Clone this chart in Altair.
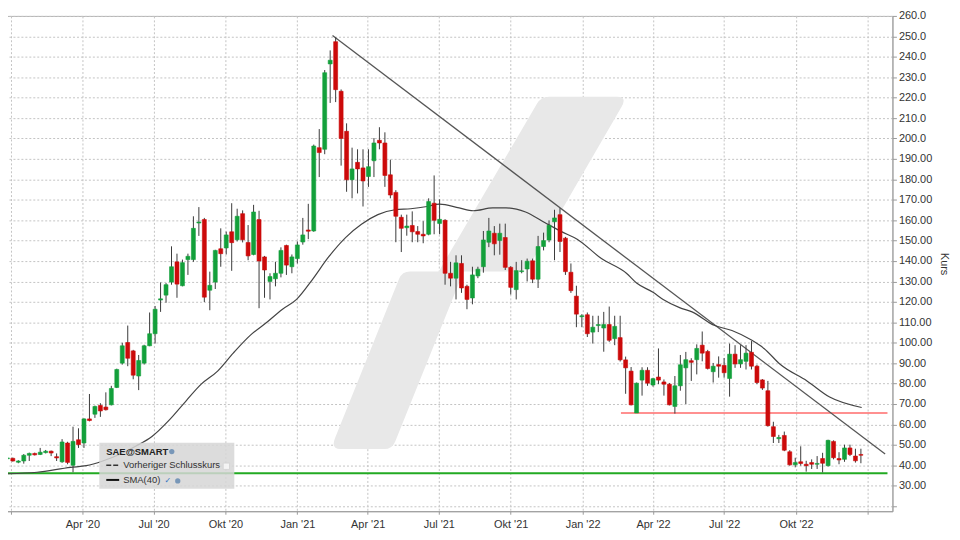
import altair as alt
import pandas as pd

# ---------------- data ----------------
start_date = "2019-12-27"  # weekly candles (week ending)

opens = [43.2, 43.4, 41.5, 42.1, 44.9, 45.8, 45.3, 46.2, 46.9, 44.2,
         41.7, 50.9, 40.0, 52.5, 50.9, 62.7, 65.0, 69.3, 68.5, 69.6,
         78.1, 90.0, 100.1, 96.0, 83.7, 90.0, 98.5, 104.4, 120.9, 123.3,
         129.7, 139.6, 127.9, 140.7, 140.7, 158.6, 160.3, 125.7, 129.7, 146.0,
         146.4, 154.3, 150.4, 163.2, 149.1, 143.2, 160.3, 142.0, 130.0, 131.3,
         134.0, 147.6, 137.2, 141.2, 149.3, 155.2, 154.7, 195.5, 194.7, 236.5,
         247.4, 223.1, 203.5, 179.8, 188.3, 185.6, 181.4, 189.1, 199.1, 197.8,
         182.2, 173.6, 161.4, 156.3, 157.4, 154.4, 153.1, 153.1, 168.3, 158.4,
         159.9, 134.0, 131.6, 138.8, 127.6, 121.9, 132.7, 137.2, 149.2, 153.6,
         150.0, 151.5, 136.9, 126.0, 134.8, 136.1, 140.1, 131.1, 147.1, 150.3,
         159.2, 162.7, 151.2, 134.5, 122.8, 112.7, 113.7, 105.2, 108.4, 107.2,
         108.9, 102.0, 102.5, 91.6, 86.1, 65.6, 81.7, 86.5, 79.3, 83.2,
         80.8, 79.7, 68.8, 78.9, 87.7, 91.2, 91.7, 98.8, 95.7, 85.8,
         89.3, 88.9, 82.5, 94.4, 89.6, 90.9, 95.3, 88.5, 81.8, 76.5,
         58.9, 53.0, 54.6, 46.6, 40.2, 41.7, 40.5, 41.3, 40.5, 43.3,
         39.8, 51.7, 43.3, 42.9, 48.5, 44.5, 45.3]

highs = [44.0, 43.8, 42.5, 45.5, 46.2, 46.2, 48.5, 47.5, 47.2, 45.8,
         52.8, 51.5, 58.9, 58.1, 63.0, 74.9, 69.2, 70.4, 75.7, 78.9,
         87.3, 100.0, 108.4, 96.5, 94.0, 99.0, 114.8, 118.0, 129.5, 129.2,
         147.2, 143.6, 140.7, 143.6, 161.9, 166.4, 161.1, 134.8, 145.5, 156.0,
         154.4, 168.3, 165.6, 164.8, 157.6, 167.5, 164.6, 142.5, 134.0, 139.6,
         146.7, 148.0, 143.2, 149.6, 161.1, 168.0, 197.0, 204.6, 233.5, 243.1,
         249.5, 224.0, 207.4, 195.5, 194.7, 194.7, 194.7, 200.2, 205.5, 203.0,
         189.6, 174.7, 162.7, 162.7, 164.3, 157.1, 159.5, 170.7, 181.9, 170.2,
         160.5, 139.6, 142.8, 142.8, 128.4, 137.2, 137.2, 154.7, 161.1, 157.1,
         158.3, 158.3, 137.5, 139.6, 140.4, 141.2, 141.2, 152.3, 153.9, 159.9,
         165.1, 165.9, 151.8, 138.8, 127.9, 114.0, 114.8, 113.2, 113.2, 115.1,
         117.7, 113.2, 113.2, 93.2, 88.1, 80.5, 88.0, 88.0, 82.8, 97.2,
         82.0, 80.3, 83.7, 94.0, 95.5, 92.4, 99.2, 105.5, 96.5, 90.1,
         93.3, 92.5, 99.6, 98.8, 98.8, 98.8, 100.8, 89.2, 82.2, 81.3,
         61.3, 54.9, 56.5, 47.4, 43.7, 49.3, 42.2, 42.9, 44.5, 46.1,
         52.5, 52.2, 46.4, 50.1, 50.1, 48.1, 48.1]

lows = [42.8, 41.8, 41.0, 40.8, 42.1, 44.8, 45.0, 45.8, 44.5, 42.1,
        41.2, 40.5, 36.6, 48.5, 48.5, 61.5, 63.2, 63.7, 66.8, 69.3,
        77.8, 89.3, 88.5, 82.1, 76.8, 89.3, 98.3, 99.6, 115.1, 119.6,
        128.4, 122.0, 127.6, 133.2, 139.6, 152.3, 119.9, 115.9, 126.3, 137.2,
        143.2, 135.2, 149.6, 149.1, 140.4, 142.8, 116.9, 122.0, 121.2, 127.6,
        132.0, 133.2, 134.0, 138.8, 148.0, 150.7, 154.3, 181.1, 192.3, 217.4,
        217.8, 186.7, 173.9, 170.7, 173.1, 166.7, 176.3, 181.1, 194.7, 176.3,
        170.7, 149.2, 144.4, 152.4, 149.2, 149.2, 148.7, 152.6, 153.1, 153.1,
        128.4, 127.6, 121.2, 124.4, 116.4, 118.8, 131.6, 134.3, 146.8, 142.8,
        143.1, 135.6, 123.6, 121.2, 134.0, 130.0, 129.2, 126.8, 145.2, 149.2,
        140.4, 144.4, 133.2, 124.4, 107.6, 107.6, 102.8, 99.6, 105.2, 95.6,
        100.4, 98.8, 90.8, 75.0, 69.3, 65.6, 74.1, 78.9, 78.5, 79.7,
        74.1, 69.3, 65.3, 76.5, 70.0, 81.3, 84.5, 90.9, 86.9, 80.5,
        82.9, 82.9, 73.6, 87.7, 87.7, 86.9, 86.9, 79.7, 76.9, 58.9,
        50.9, 50.9, 46.9, 39.8, 39.0, 39.8, 36.9, 38.2, 38.2, 36.5,
        39.4, 42.9, 40.5, 41.7, 44.5, 41.3, 41.0]

closes = [43.6, 42.1, 42.1, 44.9, 45.8, 45.1, 46.4, 46.9, 46.0, 43.6,
          51.4, 41.4, 51.7, 50.1, 62.7, 61.9, 68.8, 66.6, 67.2, 77.6,
          86.9, 98.5, 92.4, 84.1, 91.3, 98.5, 104.4, 116.4, 121.5, 128.4,
          137.2, 128.7, 139.2, 142.3, 156.0, 159.1, 122.3, 128.1, 145.2, 143.6,
          152.8, 149.0, 161.9, 150.4, 142.5, 164.0, 140.0, 135.6, 132.4, 134.0,
          145.2, 138.0, 142.0, 147.9, 152.8, 154.6, 196.3, 193.1, 232.2, 238.3,
          223.9, 200.0, 179.8, 185.1, 185.1, 179.2, 186.2, 197.8, 197.8, 181.9,
          172.3, 161.9, 156.0, 157.1, 154.3, 153.1, 152.3, 169.1, 159.9, 160.4,
          134.0, 131.6, 139.1, 126.8, 121.2, 133.2, 136.0, 150.3, 154.7, 148.4,
          153.6, 136.9, 127.1, 135.3, 135.2, 139.9, 131.1, 147.1, 150.0, 157.5,
          161.1, 149.6, 134.8, 125.5, 114.0, 113.2, 104.4, 107.6, 108.9, 108.9,
          101.2, 108.0, 91.6, 87.7, 69.6, 80.2, 86.5, 80.2, 82.4, 81.7,
          79.7, 69.6, 78.9, 89.2, 91.7, 90.4, 97.2, 94.9, 87.4, 88.5,
          88.5, 85.3, 94.4, 89.6, 91.7, 94.9, 88.5, 80.5, 77.8, 59.4,
          54.1, 53.6, 47.4, 40.2, 41.3, 40.9, 39.8, 40.5, 40.9, 41.0,
          52.2, 43.7, 42.6, 48.5, 45.3, 42.2, 44.9]

# SMA(40)
sma_dates = ["2019-12-24", "2020-02-03", "2020-03-17", "2020-04-06", "2020-04-27",
             "2020-05-19", "2020-06-08", "2020-06-29", "2020-07-21", "2020-08-12",
             "2020-08-31", "2020-09-21", "2020-10-11", "2020-11-02", "2020-11-23",
             "2020-12-13", "2020-12-31", "2021-01-20", "2021-02-10", "2021-03-04",
             "2021-03-24", "2021-04-14", "2021-05-06", "2021-05-26", "2021-06-16",
             "2021-07-02", "2021-07-27", "2021-08-14", "2021-09-08", "2021-09-25",
             "2021-10-20", "2021-11-14", "2021-12-05", "2021-12-25", "2022-01-25",
             "2022-02-26", "2022-03-11", "2022-04-01", "2022-04-14", "2022-05-05",
             "2022-05-21", "2022-06-19", "2022-07-11", "2022-08-05", "2022-08-21",
             "2022-09-11", "2022-10-15", "2022-11-13", "2022-12-24"]
sma_values = [35.8, 36.6, 39.0, 39.8, 42.1,
              45.4, 49.3, 54.1, 62.1, 71.7,
              79.7, 86.1, 94.9, 103.7, 110.0,
              116.4, 121.2, 130.8, 142.0, 151.6,
              158.0, 162.7, 165.1, 165.6, 166.7,
              167.9, 166.0, 164.6, 166.0, 166.0,
              164.0, 158.7, 154.4, 150.7, 141.2,
              134.0, 129.2, 124.7, 121.2, 117.2,
              115.1, 108.4, 106.0, 101.3, 97.2,
              89.3, 81.3, 73.4, 68.3]

trend_dates = ["2021-02-15", "2023-01-23"]
trend_values = [250.4, 45.5]

resist_dates = ["2022-02-19", "2023-01-26"]
resist_values = [65.6, 65.6]

support_dates = ["2019-12-24", "2023-01-26"]
support_values = [36.1, 36.1]

x_domain = ["2019-12-24", "2023-01-26"]
y_domain = [17.5, 260]
y_ticks = list(range(20, 261, 10))

# ---------------- layout helpers ----------------
W, H = 899, 499
FONT = "Liberation Sans"
GREEN = "#13a03b"
RED = "#cc0a0a"


def px(rx):
    return rx


def py(ry):
    return (ry - 7) * 0.9862


n = min(len(opens), len(highs), len(lows), len(closes))
df = pd.DataFrame({
    "date": pd.date_range(start_date, periods=n, freq="7D"),
    "open": opens[:n], "high": highs[:n], "low": lows[:n], "close": closes[:n],
})
sma_df = pd.DataFrame({"date": pd.to_datetime(sma_dates), "value": sma_values})
trend_df = pd.DataFrame({"date": pd.to_datetime(trend_dates), "value": trend_values})
res_df = pd.DataFrame({"date": pd.to_datetime(resist_dates), "value": resist_values})
sup_df = pd.DataFrame({"date": pd.to_datetime(support_dates), "value": support_values})
one = pd.DataFrame({"a": [0]})

month_expr = ("(year(datum.value) == 2020 && month(datum.value) == 0) || year(datum.value) >= 2023 ? '' : "
              "(['Jan','Apr','Jul','Okt'][floor(month(datum.value) / 3)] + \" '\" + timeFormat(datum.value, '%y'))")
y_label_expr = ("datum.value < 25 ? '' : (datum.value >= 200 ? format(datum.value, '.1f') "
                ": format(datum.value, '.2f'))")

x_scale = alt.Scale(domain=x_domain)
y_scale = alt.Scale(domain=y_domain, nice=False, zero=False)

x_axis = alt.Axis(tickCount={"interval": "month", "step": 3}, labelExpr=month_expr,
                  grid=True, gridDash=[2, 2], gridColor="#c4c4c4", domainColor="#9a9a9a",
                  tickColor="#9a9a9a", tickSize=3, labelColor="#333333", labelFontSize=11,
                  labelFont=FONT, labelPadding=4, title=None, labelFlush=False,
                  labelOverlap=False)
y_axis = alt.Axis(orient="right", values=y_ticks, labelExpr=y_label_expr,
                  grid=True, gridDash=[2, 2], gridColor="#c4c4c4", domainColor="#9a9a9a",
                  tickColor="#9a9a9a", tickSize=4, labelColor="#333333", labelFontSize=11,
                  labelFont=FONT, labelPadding=2, labelOverlap=False, title="Kurs",
                  titleFont=FONT, titleFontSize=11, titleFontWeight="normal",
                  titleColor="#333333", titlePadding=7)

# ---------------- watermark (decorative logo shape, reference pixels) ----------------
WM_CX, WM_CY, WM_R = 480.0, 270.0, 180.0


def wm(p):
    return "%.4f %.4f" % ((p[0] - WM_CX) / WM_R, (p[1] - WM_CY) / WM_R)


wm_path = ("M " + wm((553, 92)) + " L " + wm((622, 92)) + " Q " + wm((632, 92)) + " " + wm((626, 102.4)) +
           " L " + wm((535, 259.4)) + " Q " + wm((530, 268)) + " " + wm((520, 268)) +
           " L " + wm((467, 268)) + " L " + wm((398, 439.6)) + " Q " + wm((395, 447)) + " " + wm((387, 447)) +
           " L " + wm((343, 447)) + " Q " + wm((333, 447)) + " " + wm((337.5, 435.9)) +
           " L " + wm((402, 275.4)) + " Q " + wm((405, 268)) + " " + wm((413, 268)) +
           " L " + wm((442, 268)) + " L " + wm((541, 98.9)) + " Q " + wm((545, 92)) + " " + wm((553, 92)) + " Z")
watermark = alt.Chart(one).mark_point(shape=wm_path, filled=True, size=(2 * WM_R) ** 2,
                                      color="#e8e8e8", opacity=1, strokeWidth=0).encode(
    x=alt.value(px(WM_CX)), y=alt.value(py(WM_CY)))

# ---------------- base layers ----------------
Y = lambda f: alt.Y(f, scale=y_scale, axis=y_axis)
X = alt.X("date:T", scale=x_scale, axis=x_axis)

support = alt.Chart(sup_df).mark_line(color="#22aa22", strokeWidth=2, clip=True).encode(
    x=X, y=Y("value:Q"))
resist = alt.Chart(res_df).mark_line(color="#ff6b6b", strokeWidth=1.5, clip=True).encode(
    x=X, y=Y("value:Q"))
trend = alt.Chart(trend_df).mark_line(color="#555555", strokeWidth=1.3, clip=True).encode(
    x=X, y=Y("value:Q"))
sma = alt.Chart(sma_df).mark_line(color="#444444", strokeWidth=1.2, interpolate="monotone",
                                  clip=True).encode(x=X, y=Y("value:Q"))

wicks = alt.Chart(df).mark_rule(color="#3a3a3a", strokeWidth=1, clip=True).encode(
    x=X, y=Y("low:Q"), y2="high:Q")
col = alt.condition("datum.close >= datum.open", alt.value(GREEN), alt.value(RED))
bodies = alt.Chart(df).mark_bar(width=4, strokeWidth=0.6, clip=True).encode(
    x=X, y=Y("open:Q"), y2="close:Q", color=col, stroke=col)

# ---------------- legend box ----------------
LF = 9.5
lg = alt.Chart(one)
box = lg.mark_rect(color="#d6d6d6", opacity=0.85).encode(
    x=alt.value(px(100)), x2=alt.value(px(236)), y=alt.value(py(443)), y2=alt.value(py(490)))
t1 = lg.mark_text(text="SAE@SMART", font=FONT, fontSize=LF, fontWeight="bold", align="left",
                  baseline="middle", color="#222222").encode(x=alt.value(px(107)), y=alt.value(py(452)))
g1 = lg.mark_point(shape="circle", filled=True, size=28, color="#4d79a8").encode(
    x=alt.value(px(173)), y=alt.value(py(452)))
dash = lg.mark_rule(color="#333333", strokeWidth=1.5, strokeDash=[5, 2]).encode(
    x=alt.value(px(107)), x2=alt.value(px(120)), y=alt.value(py(466)))
t2 = lg.mark_text(text="Vorheriger Schlusskurs", font=FONT, fontSize=LF, align="left",
                  baseline="middle", color="#333333").encode(x=alt.value(px(124)), y=alt.value(py(466)))
sq = lg.mark_square(filled=True, size=40, color="#ffffff", stroke="#cfcfcf", strokeWidth=0.8).encode(
    x=alt.value(px(228)), y=alt.value(py(467)))
solid = lg.mark_rule(color="#111111", strokeWidth=2).encode(
    x=alt.value(px(107)), x2=alt.value(px(120)), y=alt.value(py(481)))
t3 = lg.mark_text(text="SMA(40)", font=FONT, fontSize=LF, align="left",
                  baseline="middle", color="#333333").encode(x=alt.value(px(124)), y=alt.value(py(481)))
chk = lg.mark_text(text="✓", font="DejaVu Sans", fontSize=8, fontWeight="bold", align="center",
                   baseline="middle", color="#2f6fc0").encode(x=alt.value(px(169)), y=alt.value(py(482)))
g2 = lg.mark_point(shape="circle", filled=True, size=28, color="#4d79a8").encode(
    x=alt.value(px(179)), y=alt.value(py(482)))

chart = alt.layer(
    watermark, support, resist, trend, sma, wicks, bodies,
    box, t1, g1, dash, t2, sq, solid, t3, chk, g2
).properties(
    width=W, height=H,
    autosize=alt.AutoSizeParams(type="none"),
    padding={"left": -8, "top": 6, "right": 60, "bottom": 26},
    background="#ffffff",
).configure_view(
    stroke="#b0b0b0", strokeWidth=1
).configure_axis(
    labelOverlap=False
).configure_axisY(
    labelOverlap=False
)

chart.save("out.html", embed_options={"renderer": "svg", "actions": False})
